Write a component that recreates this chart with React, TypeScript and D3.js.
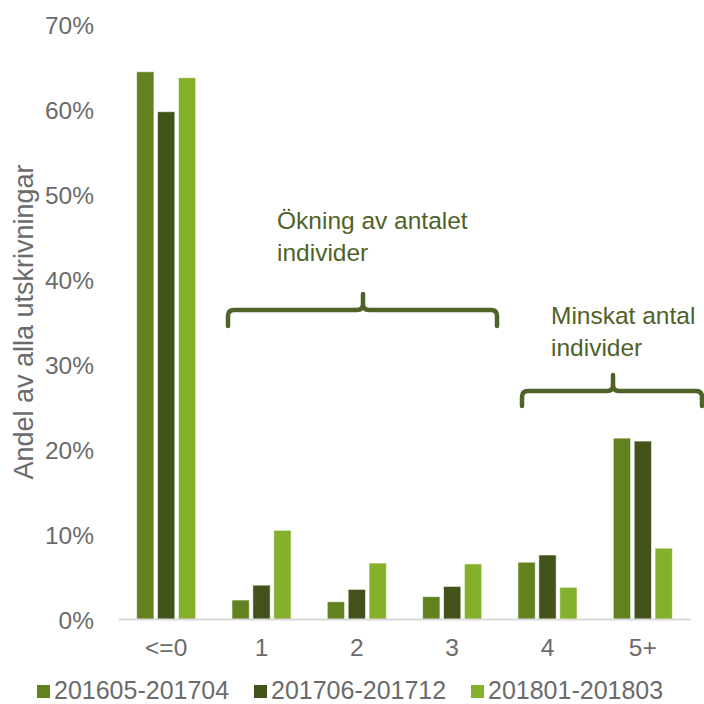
import React from "react";
import * as d3 from "d3";

const categories = ["<=0", "1", "2", "3", "4", "5+"];
const seriesNames = ["201605-201704", "201706-201712", "201801-201803"];
const seriesColors = ["#62821f", "#41521b", "#84b02c"];
const s1 = [0.645, 0.0235, 0.0215, 0.0275, 0.068, 0.214];
const s2 = [0.598, 0.041, 0.036, 0.0395, 0.0765, 0.2105];
const s3 = [0.638, 0.1055, 0.067, 0.066, 0.0385, 0.0845];
const yTicks = [0, 0.1, 0.2, 0.3, 0.4, 0.5, 0.6, 0.7];
const annotations = [
  { lines: ["Ökning av antalet", "individer"], from: 1, to: 3 },
  { lines: ["Minskat antal", "individer"], from: 4, to: 5 },
];

const W = 704;
const H = 704;
const FONT = "'Liberation Sans', Arial, sans-serif";
const GRAY = "#6b6b6b";
const ANN = "#4f6228";

export default function App() {
  const series = [s1, s2, s3];
  const x = d3.scaleBand<string>().domain(categories).range([118.5, 690.5]).paddingInner(0).paddingOuter(0);
  const bw = x.bandwidth();
  const groupW = bw * 0.62;
  const xs = d3.scaleBand<number>().domain([0, 1, 2]).range([(bw - groupW) / 2, (bw + groupW) / 2]).paddingInner(0.17);
  const y = d3.scaleLinear().domain([0, 0.7]).range([620, 25]);
  const fmt = d3.format(".0%");

  const braces = [
    { x0: 228, x1: 497, xm: 363, yl: 310, tip: 294, end: 326, tx: 277, ty: 229 },
    { x0: 522, x1: 702, xm: 613, yl: 391, tip: 375, end: 406, tx: 551, ty: 324 },
  ];
  const bracePath = (b: any) => {
    const r = 6;
    return `M${b.x0},${b.end} V${b.yl + r} Q${b.x0},${b.yl} ${b.x0 + r},${b.yl} H${b.xm - r} Q${b.xm},${b.yl} ${b.xm},${b.yl - r} V${b.tip}` +
      ` M${b.xm},${b.yl - r} Q${b.xm},${b.yl} ${b.xm + r},${b.yl} H${b.x1 - r} Q${b.x1},${b.yl} ${b.x1},${b.yl + r} V${b.end}`;
  };

  const legendX = [37, 254, 471];

  return (
    <svg width={W} height={H} style={{ position: "absolute", left: 0, top: 0, background: "#fff" }} fontFamily={FONT}>
      {yTicks.map((t) => (
        <text key={t} x={94} y={y(t)} dy="0.36em" textAnchor="end" fontSize={24.5} fill={GRAY}>
          {fmt(t)}
        </text>
      ))}
      <text transform={`translate(33,322) rotate(-90)`} textAnchor="middle" fontSize={27} fill={GRAY}>
        Andel av alla utskrivningar
      </text>
      {categories.map((c, i) => (
        <g key={c} transform={`translate(${x(c)},0)`}>
          {series.map((s, j) => (
            <rect
              key={j}
              x={xs(j)}
              y={y(s[i])}
              width={xs.bandwidth()}
              height={y(0) - y(s[i])}
              fill={seriesColors[j]}
              stroke="#ffffff"
              strokeOpacity={0.6}
              strokeWidth={1}
            />
          ))}
          <text x={bw / 2} y={656} textAnchor="middle" fontSize={24.5} fill={GRAY}>
            {c}
          </text>
        </g>
      ))}
      <line x1={118.5} x2={690.5} y1={619.5} y2={619.5} stroke="#d9d9d9" strokeWidth={2} />
      {annotations.map((a, k) => {
        const b = braces[k];
        return (
          <g key={k}>
            <path d={bracePath(b)} fill="none" stroke={ANN} strokeWidth={4.5} strokeLinecap="round" />
            {a.lines.map((l, li) => (
              <text key={li} x={b.tx} y={b.ty + li * 32} fontSize={24.5} fill={ANN}>
                {l}
              </text>
            ))}
          </g>
        );
      })}
      {seriesNames.map((n, j) => (
        <g key={n}>
          <rect x={legendX[j]} y={685} width={13} height={13} fill={seriesColors[j]} />
          <text x={legendX[j] + 17} y={699} fontSize={25} fill={GRAY}>
            {n}
          </text>
        </g>
      ))}
    </svg>
  );
}
